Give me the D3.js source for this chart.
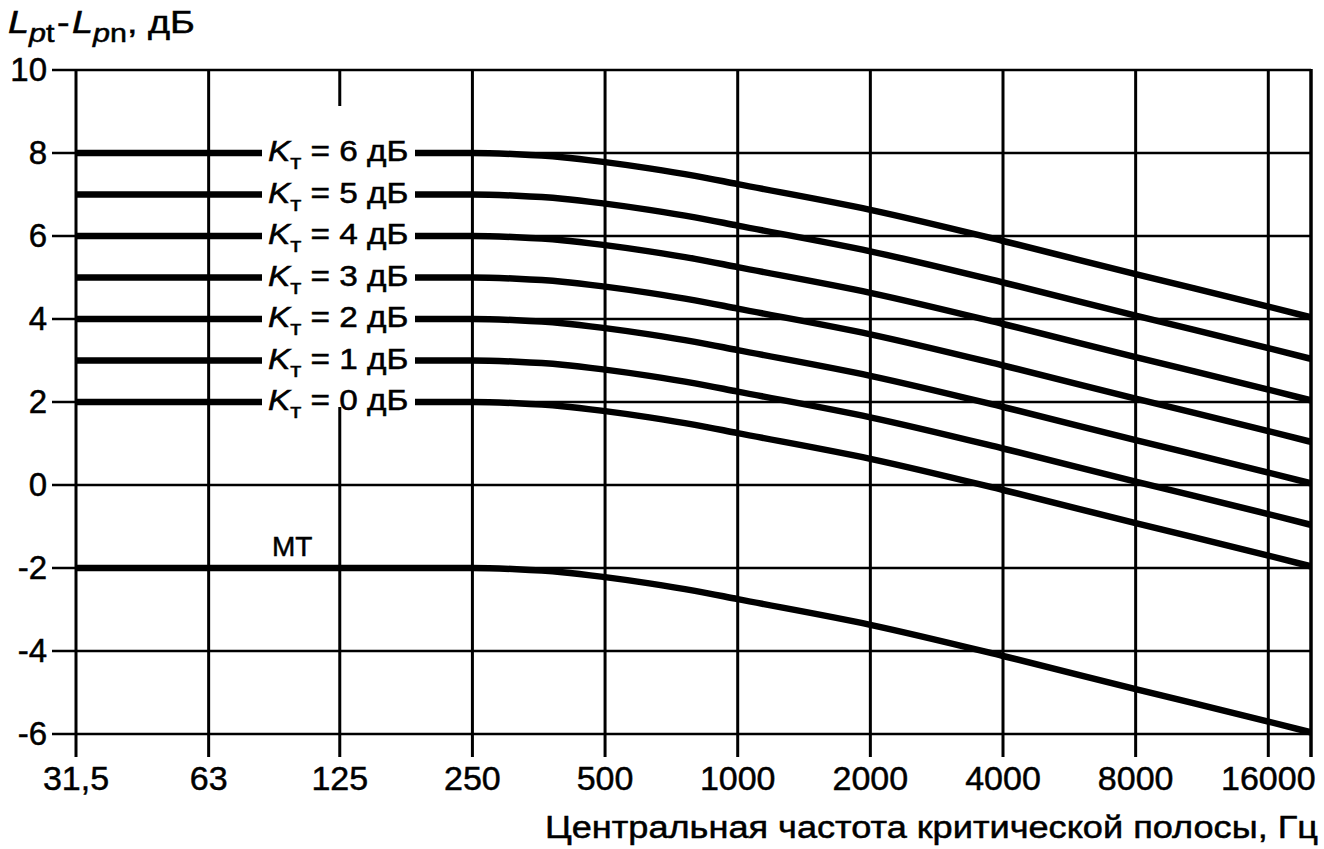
<!DOCTYPE html>
<html>
<head>
<meta charset="utf-8">
<script src="https://cdn.jsdelivr.net/npm/d3@7"></script>
<style>
  html, body { margin: 0; padding: 0; background: #fff; }
  svg { display: block; }
  text { font-family: "Liberation Sans", Arial, sans-serif; fill: #000; stroke: #000; stroke-width: 0.5px; }
</style>
</head>
<body>
<svg id="chart" width="1324" height="849"></svg>
<script>
// ---- data ----
const freqs = [31.5, 250, 315, 400, 500, 630, 800, 1000, 2000, 4000, 8000, 16000, 20000];
const xTickValues = [31.5, 63, 125, 250, 500, 1000, 2000, 4000, 8000, 16000];
const xTickLabels = ["31,5", "63", "125", "250", "500", "1000", "2000", "4000", "8000", "16000"];
const yTickValues = [-6, -4, -2, 0, 2, 4, 6, 8, 10];

const seriesMT  = [-2, -2, -2.03, -2.1, -2.22, -2.37, -2.55, -2.75, -3.37, -4.12, -4.92, -5.7, -5.96];
const seriesKt0 = [2, 2, 1.97, 1.9, 1.78, 1.63, 1.45, 1.25, 0.63, -0.12, -0.92, -1.7, -1.96];
const seriesKt1 = [3, 3, 2.97, 2.9, 2.78, 2.63, 2.45, 2.25, 1.63, 0.88, 0.08, -0.7, -0.96];
const seriesKt2 = [4, 4, 3.97, 3.9, 3.78, 3.63, 3.45, 3.25, 2.63, 1.88, 1.08, 0.3, 0.04];
const seriesKt3 = [5, 5, 4.97, 4.9, 4.78, 4.63, 4.45, 4.25, 3.63, 2.88, 2.08, 1.3, 1.04];
const seriesKt4 = [6, 6, 5.97, 5.9, 5.78, 5.63, 5.45, 5.25, 4.63, 3.88, 3.08, 2.3, 2.04];
const seriesKt5 = [7, 7, 6.97, 6.9, 6.78, 6.63, 6.45, 6.25, 5.63, 4.88, 4.08, 3.3, 3.04];
const seriesKt6 = [8, 8, 7.97, 7.9, 7.78, 7.63, 7.45, 7.25, 6.63, 5.88, 5.08, 4.3, 4.04];

const ktSeries = [seriesKt0, seriesKt1, seriesKt2, seriesKt3, seriesKt4, seriesKt5, seriesKt6];
const ktLabels = ["0", "1", "2", "3", "4", "5", "6"];

// ---- layout ----
const svg = d3.select("#chart");
const x = d3.scaleLog().domain([31.5, 20000]).range([76, 1311]);
const y = d3.scaleLinear().domain([-6, 10]).range([734, 70]);
const tickBottom = 757;
const tickLeft = 52;

// horizontal grid
svg.append("g").selectAll("line").data(yTickValues).join("line")
  .attr("x1", tickLeft).attr("x2", x.range()[1])
  .attr("y1", d => y(d)).attr("y2", d => y(d))
  .attr("stroke", "#000").attr("stroke-width", 2.5);

// vertical grid (incl. left axis)
svg.append("g").selectAll("line").data(xTickValues).join("line")
  .attr("x1", d => x(d)).attr("x2", d => x(d))
  .attr("y1", y(10)).attr("y2", tickBottom)
  .attr("stroke", "#000").attr("stroke-width", 3);

// right border
svg.append("line")
  .attr("x1", x.range()[1]).attr("x2", x.range()[1])
  .attr("y1", y(10) - 1).attr("y2", tickBottom)
  .attr("stroke", "#000").attr("stroke-width", 3.5);

// curves
const line = d3.line()
  .x((d, i) => x(freqs[i]))
  .y(d => y(d))
  .curve(d3.curveMonotoneX);

svg.append("g").selectAll("path").data([seriesMT, ...ktSeries]).join("path")
  .attr("d", d => line(d))
  .attr("fill", "none").attr("stroke", "#000").attr("stroke-width", 6.5);

// label block (white background)
svg.append("rect")
  .attr("x", 262).attr("y", 106).attr("width", 153).attr("height", 301)
  .attr("fill", "#fff");

const lab = svg.append("g");
ktSeries.forEach((s, i) => {
  const t = lab.append("text")
    .attr("transform", `translate(268,${y(s[0]) + 8}) scale(1.15,1)`)
    .attr("font-size", 29);
  t.append("tspan").attr("font-style", "italic").text("K");
  t.append("tspan").attr("dy", 8).attr("font-size", 21).text("т");
  t.append("tspan").attr("dy", -8).text(" = " + ktLabels[i] + " дБ");
});

svg.append("text").attr("x", 272).attr("y", 556).attr("font-size", 28).text("МТ");

// y tick labels
svg.append("g").selectAll("text").data(yTickValues).join("text")
  .attr("x", 47).attr("y", d => y(d) + 11)
  .attr("text-anchor", "end").attr("font-size", 33)
  .text(d => d);

// x tick labels
svg.append("g").selectAll("text").data(xTickValues).join("text")
  .attr("x", d => x(d)).attr("y", 790)
  .attr("text-anchor", "middle").attr("font-size", 34)
  .text((d, i) => xTickLabels[i]);

// x axis title
svg.append("text").attr("x", 545).attr("y", 838)
  .attr("font-size", 31)
  .attr("textLength", 773).attr("lengthAdjust", "spacingAndGlyphs")
  .text("Центральная частота критической полосы, Гц");

// y axis title
const yt = svg.append("text")
  .attr("transform", "translate(8,33) scale(1.22,1)")
  .attr("font-size", 31);
yt.append("tspan").attr("font-style", "italic").text("L");
yt.append("tspan").attr("dy", 9).attr("font-size", 25).attr("font-style", "italic").text("p");
yt.append("tspan").attr("font-size", 25).text("t");
yt.append("tspan").attr("dy", -9).attr("dx", 2).text("-");
yt.append("tspan").attr("dx", 2).attr("font-style", "italic").text("L");
yt.append("tspan").attr("dy", 9).attr("font-size", 25).attr("font-style", "italic").text("p");
yt.append("tspan").attr("font-size", 25).text("n");
yt.append("tspan").attr("dy", -9).text(", дБ");
</script>
</body>
</html>
